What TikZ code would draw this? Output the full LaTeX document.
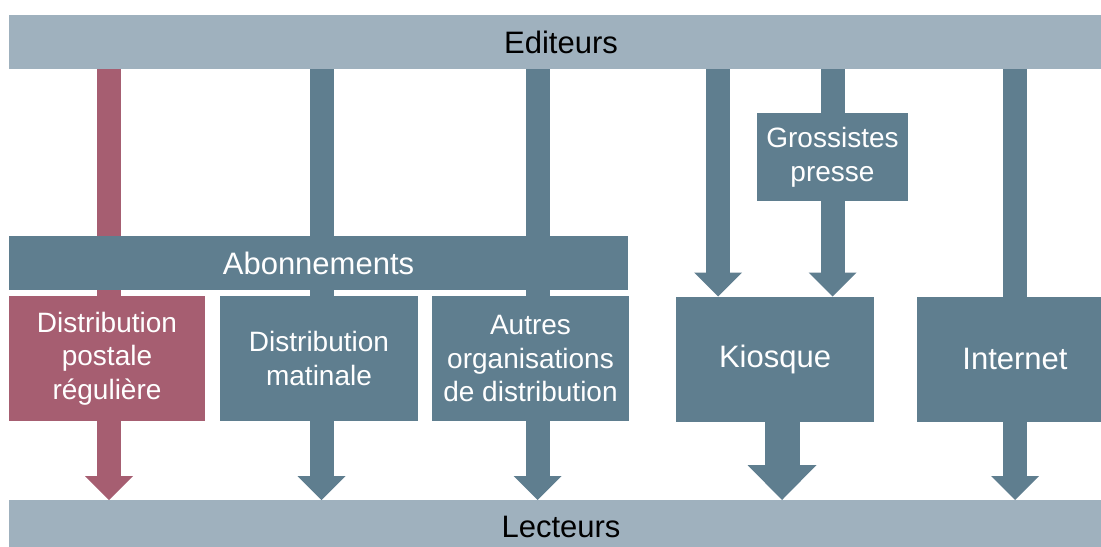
\documentclass[tikz,border=0pt]{standalone}
\usepackage{fontspec}
\setmainfont{Liberation Sans}
\usetikzlibrary{arrows.meta}
\pgfdeclarelayer{background}
\pgfsetlayers{background,main}
\definecolor{barlight}{RGB}{159,177,190}
\definecolor{boxdark}{RGB}{95,126,143}
\definecolor{boxred}{RGB}{166,94,113}

\begin{document}
\begin{tikzpicture}[x=0.5pt,y=-0.5pt,
		every node/.style={inner sep=0pt,outer sep=0pt},
		bigfont/.style={font=\fontsize{15.5}{18}\selectfont},
		bar/.style={rectangle,fill=barlight,text=black,bigfont,minimum width=552pt,minimum height=27pt},
		box/.style={rectangle,fill=boxdark,text=white,align=center,font=\fontsize{14}{16.8}\selectfont,minimum height=62.5pt},
		shaft/.style={draw=boxdark,line width=12pt},
		headarrow/.style={-{Triangle[width=24pt,length=12pt,line width=0pt]}},
		wideshaft/.style={draw=boxdark,line width=17.5pt,-{Triangle[width=34.5pt,length=17.5pt,line width=0pt]}}]
		\useasboundingbox (0,0) rectangle (1101,546);
		
		\node[bar] (ed)  at (561,42)  {Editeurs};
		\node[bar] (lec) at (561,527) {Lecteurs};
		
		\node[box,bigfont,minimum width=309.5pt,minimum height=27pt] (abo) at (318.5,263) {Abonnements};
		\node[box,fill=boxred,minimum width=98pt] (post) at (107,358.5) {Distribution\\postale\\régulière};
		\node[box,minimum width=99pt]   (mat) at (319,358.5)   {Distribution\\matinale};
		\node[box,minimum width=98.5pt] (aut) at (530.5,358.5) {Autres\\organisations\\de distribution};
		
		\node[box,minimum width=75.5pt,minimum height=44pt] (gro) at (832.5,157) {Grossistes\\presse};
		\node[box,bigfont,minimum width=99pt] (kio) at (775,359)  {Kiosque};
		\node[box,bigfont,minimum width=98pt] (int) at (1015,359) {Internet};
		
		\begin{pgfonlayer}{background}
		\draw[shaft,draw=boxred] ([xshift=1pt]post.north) -- ([xshift=1pt]post.north |- ed.south);
		\draw[shaft] ([xshift=1.25pt]mat.north) -- ([xshift=1.25pt]mat.north |- ed.south);
		\draw[shaft] ([xshift=3.5pt]aut.north) -- ([xshift=3.5pt]aut.north |- ed.south);
		\draw[shaft] (gro.north) -- (gro.north |- ed.south);
		\draw[shaft] (int.north) -- (int.north |- ed.south);
		
		\draw[shaft,headarrow] ([xshift=-28.5pt]kio.north |- ed.south) -- ([xshift=-28.5pt]kio.north);
		\draw[shaft,headarrow] (gro.south) -- (gro.south |- kio.north);
		
		\draw[shaft,headarrow,draw=boxred] ([xshift=1pt]post.south) -- ([xshift=1pt]post.south |- lec.north);
		\draw[shaft,headarrow] ([xshift=1.25pt]mat.south) -- ([xshift=1.25pt]mat.south |- lec.north);
		\draw[shaft,headarrow] ([xshift=3.5pt]aut.south) -- ([xshift=3.5pt]aut.south |- lec.north);
		\draw[wideshaft] ([xshift=3.5pt]kio.south) -- ([xshift=3.5pt]kio.south |- lec.north);
		\draw[shaft,headarrow] (int.south) -- (int.south |- lec.north);
		\end{pgfonlayer}
\end{tikzpicture}
\end{document}
